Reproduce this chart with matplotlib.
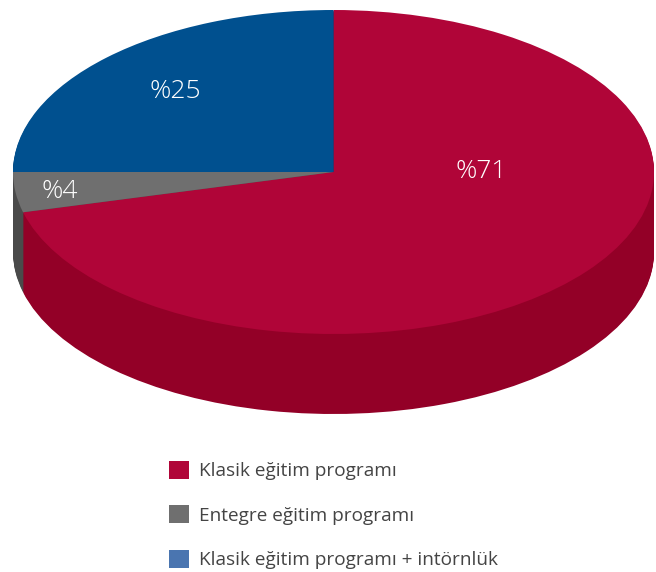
import matplotlib
matplotlib.use('Agg')
import matplotlib.pyplot as plt
from matplotlib.patches import Patch

#=========================================================
#                  data
#=========================================================
categories = ['Klasik eğitim programı', 'Entegre eğitim programı', 'Klasik eğitim programı + intörnlük']
shares = [71, 4, 25]
slice_labels = ['%71', '%4', '%25']

top_colors = ['#B00538', '#6F6F6F', '#00508F']
side_colors = ['#930027', '#4A4A4A', '#003A68']
legend_colors = ['#B00538', '#6F6F6F', '#4A75B0']

#pixel geometry of the top ellipse
W, H = 656, 572
cx, cy = 333.5, 172
rx, ry = 320.5, 162
depth_px = 80

font = 'Open Sans'

def to_x(px):
    return (px - cx)/rx

def to_y(py):
    return (cy - py)/ry

#=========================================================
#                  plot
#=========================================================
fig = plt.figure(figsize=(W/100, H/100), dpi=100)
ax = fig.add_axes([0, 0, 1, 1])

#side wall = stack of dark pies, back to front
for d in range(depth_px, 0, -1):
    ax.pie(shares, colors=side_colors, startangle=90, counterclock=False,
           center=(0, -d/ry), radius=1, wedgeprops={'linewidth': 0.6, 'edgecolor': 'none'})

wedges, _ = ax.pie(shares, colors=top_colors, startangle=90, counterclock=False,
                   center=(0, 0), radius=1, wedgeprops={'linewidth': 0})

ax.set_aspect('auto')
ax.set_xlim(to_x(0), to_x(W))
ax.set_ylim(to_y(H), to_y(0))
ax.axis('off')

label_px = [(481, 172), (60, 191), (175, 91)]
for lab, (px, py) in zip(slice_labels, label_px):
    ax.text(to_x(px), to_y(py), lab, color='white', fontsize=19, family=font,
            fontweight='light', ha='center', va='center')

handles = [Patch(facecolor=c, edgecolor='none') for c in legend_colors]
fig.legend(handles, categories, loc='upper left', bbox_to_anchor=(169/W, 1 - 461/H),
           frameon=False, prop={'family': font, 'size': 13.7}, labelcolor='#444444',
           handlelength=1.05, handleheight=1.05, handletextpad=0.52,
           labelspacing=1.32, borderpad=0, borderaxespad=0)

fig.savefig('out.png', dpi=100)
